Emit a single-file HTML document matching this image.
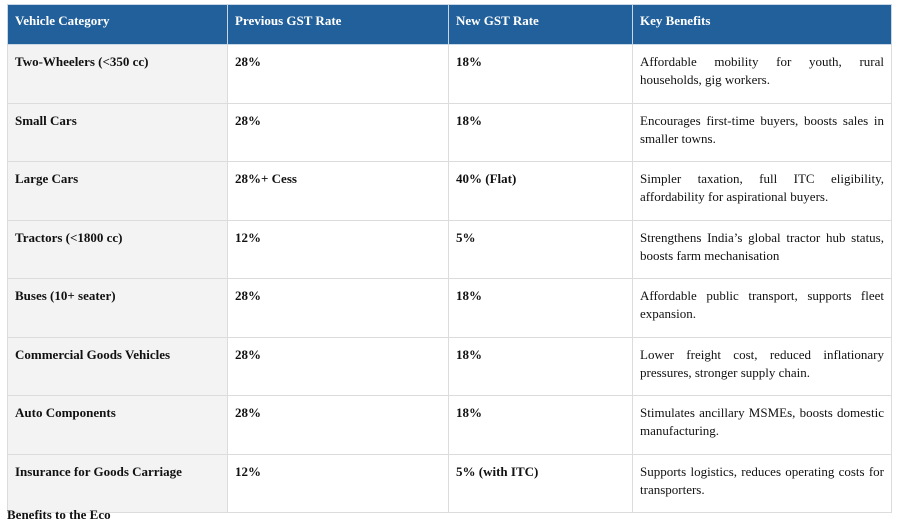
<!DOCTYPE html>
<html><head><meta charset="utf-8"><style>
html,body{margin:0;padding:0;background:#fff;width:898px;height:517px;overflow:hidden}
body{font-family:"Liberation Serif",serif;color:#111}
table{position:absolute;left:7px;top:4px;border-collapse:collapse;table-layout:fixed;width:884px}
th{background:#21609b;color:#fff;font-weight:bold;font-size:13px;text-align:left;vertical-align:top;height:40px;padding:8px 7px 0 7px;border:1px solid #c8d6e6;box-sizing:border-box}
td{font-size:13px;vertical-align:top;padding:8px 7px 0 7px;height:58.5px;box-sizing:border-box;border:1px solid #dcdcdc;line-height:18px}
td.c1{background:#f3f3f3;font-weight:bold}
td.b{font-weight:bold}
td.k{text-align:justify;font-size:13px}
.foot{position:absolute;left:7px;top:507px;font-size:13px;font-weight:bold}
</style></head><body>
<table>
<colgroup><col style="width:220px"><col style="width:221px"><col style="width:184px"><col style="width:259px"></colgroup>
<tr><th>Vehicle Category</th><th>Previous GST Rate</th><th>New GST Rate</th><th>Key Benefits</th></tr>
<tr><td class="c1">Two-Wheelers (&lt;350 cc)</td><td class="b">28%</td><td class="b">18%</td><td class="k">Affordable mobility for youth, rural households, gig workers.</td></tr>
<tr><td class="c1">Small Cars</td><td class="b">28%</td><td class="b">18%</td><td class="k">Encourages first-time buyers, boosts sales in smaller towns.</td></tr>
<tr><td class="c1">Large Cars</td><td class="b">28%+ Cess</td><td class="b">40% (Flat)</td><td class="k">Simpler taxation, full ITC eligibility, affordability for aspirational buyers.</td></tr>
<tr><td class="c1">Tractors (&lt;1800 cc)</td><td class="b">12%</td><td class="b">5%</td><td class="k">Strengthens India’s global tractor hub status, boosts farm mechanisation</td></tr>
<tr><td class="c1">Buses (10+ seater)</td><td class="b">28%</td><td class="b">18%</td><td class="k">Affordable public transport, supports fleet expansion.</td></tr>
<tr><td class="c1">Commercial Goods Vehicles</td><td class="b">28%</td><td class="b">18%</td><td class="k">Lower freight cost, reduced inflationary pressures, stronger supply chain.</td></tr>
<tr><td class="c1">Auto Components</td><td class="b">28%</td><td class="b">18%</td><td class="k">Stimulates ancillary MSMEs, boosts domestic manufacturing.</td></tr>
<tr><td class="c1">Insurance for Goods Carriage</td><td class="b">12%</td><td class="b">5% (with ITC)</td><td class="k">Supports logistics, reduces operating costs for transporters.</td></tr>
</table>
<div class="foot">Benefits to the Eco</div>
</body></html>
